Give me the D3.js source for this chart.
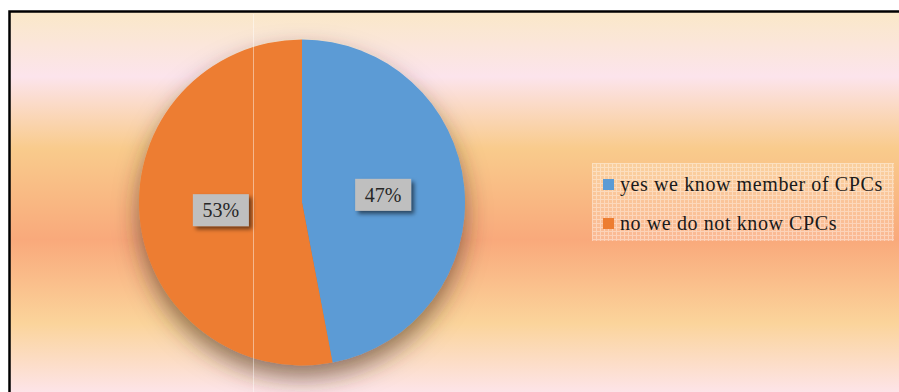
<!DOCTYPE html>
<html>
<head>
<meta charset="utf-8">
<script src="https://d3js.org/d3.v7.min.js"></script>
<style>
  body { margin: 0; background: #fff; }
  svg { display: block; }
  .serif { font-family: "Liberation Serif", "DejaVu Serif", "Times New Roman", serif; }
</style>
</head>
<body>
<svg width="899" height="392"></svg>
<script>
var svg = d3.select("svg"),
    width = +svg.attr("width"),
    height = +svg.attr("height");

// data
var categories = ["yes we know member of CPCs", "no we do not know CPCs"];
var values = [47, 53];
var sliceColours = ["#5B9BD5", "#ED7D31"];

var cx = 302, cy = 202.5, radius = 163;

var defs = svg.append("defs");

// background bands (peach gradient)
var bg = defs.append("linearGradient")
    .attr("id", "bgGrad")
    .attr("gradientUnits", "userSpaceOnUse")
    .attr("x1", 0).attr("y1", 12).attr("x2", 0).attr("y2", 392);
[[0, "#FAE8C8"], [0.17, "#FCE4EC"], [0.36, "#F9CB8C"], [0.6, "#F9A97B"],
 [0.82, "#FBD49B"], [1, "#FDE4E8"]].forEach(function (s) {
    bg.append("stop").attr("offset", s[0]).attr("stop-color", s[1]);
});

// pie shadow
var pf = defs.append("filter").attr("id", "pieShadow")
    .attr("x", "-30%").attr("y", "-30%").attr("width", "160%").attr("height", "160%");
pf.append("feDropShadow").attr("dx", 0).attr("dy", 12).attr("stdDeviation", 12)
    .attr("flood-color", "#4a2a1a").attr("flood-opacity", 0.6);

// label shadow
var lf = defs.append("filter").attr("id", "lblShadow")
    .attr("x", "-30%").attr("y", "-30%").attr("width", "160%").attr("height", "160%");
lf.append("feDropShadow").attr("dx", 3).attr("dy", 3).attr("stdDeviation", 2)
    .attr("flood-color", "#000").attr("flood-opacity", 0.55);

// legend texture
var pat = defs.append("pattern").attr("id", "grid")
    .attr("patternUnits", "userSpaceOnUse").attr("width", 4).attr("height", 4);
pat.append("rect").attr("width", 4).attr("height", 4).attr("fill", "#fff").attr("opacity", 0.18);
pat.append("path").attr("d", "M0 0.5H4M0.5 0V4").attr("stroke", "#fff")
    .attr("stroke-width", 1).attr("opacity", 0.35);

// background + frame
svg.append("rect")
    .attr("x", 10).attr("y", 12).attr("width", width).attr("height", height)
    .attr("fill", "url(#bgGrad)");
svg.append("path")
    .attr("d", "M9.5," + height + "V11.5H" + width)
    .attr("fill", "none").attr("stroke", "#000").attr("stroke-width", 2.5);

var pie = d3.pie().sort(null).value(function (d) { return d; });
var arc = d3.arc().innerRadius(0).outerRadius(radius);
var labelArc = d3.arc().innerRadius(radius * 0.5).outerRadius(radius * 0.5);
var arcs = pie(values);

var g = svg.append("g").attr("transform", "translate(" + cx + "," + cy + ")");

g.append("g").attr("filter", "url(#pieShadow)")
    .selectAll("path")
    .data(arcs)
    .enter().append("path")
    .attr("d", arc)
    .attr("fill", function (d, i) { return sliceColours[i]; });

// faint vertical line seen through the plot
svg.append("line")
    .attr("x1", 253.5).attr("x2", 253.5).attr("y1", 14).attr("y2", height)
    .attr("stroke", "#fff").attr("stroke-opacity", 0.45).attr("stroke-width", 1);

var total = d3.sum(values);
var lbl = g.selectAll(".lbl")
    .data(arcs)
    .enter().append("g")
    .attr("class", "lbl")
    .attr("transform", function (d) {
        var c = labelArc.centroid(d);
        return "translate(" + c[0] + "," + c[1] + ")";
    });

lbl.append("rect")
    .attr("x", -28).attr("y", -16).attr("width", 56).attr("height", 32)
    .attr("fill", "#BFBFBF")
    .attr("filter", "url(#lblShadow)");

lbl.append("text")
    .attr("class", "serif")
    .attr("text-anchor", "middle")
    .attr("dy", "0.35em")
    .style("font-size", "20px")
    .attr("fill", "#262626")
    .text(function (d) { return Math.round(d.data / total * 100) + "%"; });

// legend
var legend = svg.append("g").attr("transform", "translate(592,163)");
legend.append("rect")
    .attr("width", 302).attr("height", 78)
    .attr("fill", "url(#grid)");

var item = legend.selectAll(".item")
    .data(categories)
    .enter().append("g")
    .attr("class", "item")
    .attr("transform", function (d, i) { return "translate(11," + (16 + i * 39) + ")"; });

item.append("rect")
    .attr("width", 11).attr("height", 11)
    .attr("fill", function (d, i) { return sliceColours[i]; });

item.append("text")
    .attr("class", "serif")
    .attr("x", 17).attr("y", 12)
    .style("font-size", "20px")
    .style("letter-spacing", "0.6px")
    .attr("fill", "#1a1a1a")
    .text(function (d) { return d; });
</script>
</body>
</html>
